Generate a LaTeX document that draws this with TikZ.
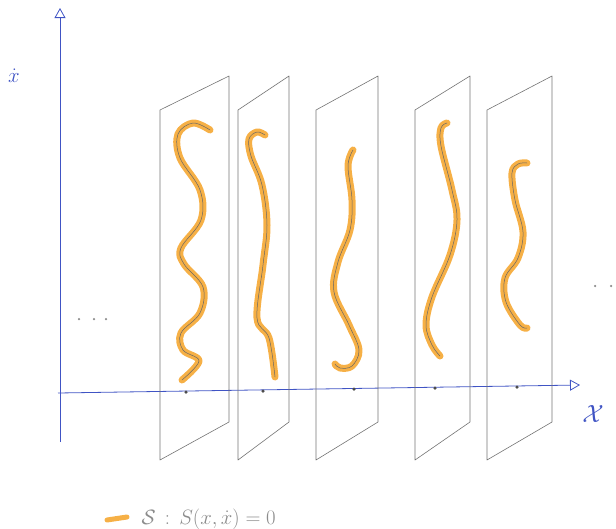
\documentclass[tikz,border=0pt]{standalone}
\usepackage{amsmath}
\usepackage{xcolor}
\usepackage{tikz}
\usetikzlibrary{arrows.meta}

\definecolor{axisblue}{RGB}{64,84,196}
\definecolor{markerorange}{RGB}{246,176,70}
\definecolor{legendgray}{RGB}{140,140,140}

\begin{document}
\begin{tikzpicture}[x=1pt, y=-1pt,
  axis/.style={axisblue, line width=0.8pt, -{Triangle[open, length=10pt, width=11pt]}},
  plane/.style={black!55, line width=0.6pt, line join=round},
  curve/.style={markerorange, line width=7pt, line cap=round, line join=round,
    postaction={draw, black!60, line width=0.5pt}},
  tick/.style={circle, fill=black!70, inner sep=0pt, minimum size=3.5pt},
  etc/.style={circle, fill=black!45, inner sep=0pt, minimum size=2.5pt}]
  \useasboundingbox (0,0) rectangle (616,528);

  % axes
  \coordinate (o) at (60,393);
  \coordinate (xend) at (580,385);
  \coordinate (yend) at (60,8);
  \draw[axis] (58,393) -- (xend);
  \draw[axis] (60,442) -- (yend);
  \node[axisblue, font=\huge] (xdot) at (14,76) {$\dot{x}$};
  \node[axisblue, font=\Huge] (xlab) at (593,414) {$\mathcal{X}$};

  % the fibres (left edge / right edge)
  \foreach \l/\r in {160/229, 238/289, 316/378, 415/470, 487/552}
    \draw[plane] (\l,460) -- (\l,110) -- (\r,76) -- (\r,422) -- cycle;

  % base points on the axis
  \foreach \p/\q [count=\i] in {186/392, 263/391, 354/389, 435/388, 517/387}
    \node[tick] (t\i) at (\p,\q) {};

  % orange level sets in each fibre
  \draw[curve] plot[smooth, tension=0.6] coordinates {(210,130) (193,123) (178,134)
    (180,158) (200,190) (201,220) (181,248) (184,264) (203,287) (200,313)
    (181,333) (183,350) (199,361) (182,380)};
  \draw[curve] plot[smooth, tension=0.6] coordinates {(265,135) (257,132) (249,139)
    (251,156) (262,185) (267,225) (263,265) (257,318) (269,338) (275,377)};
  \draw[curve] plot[smooth, tension=0.6] coordinates {(353,150) (348,166) (352,200)
    (350,230) (338,262) (334,292) (349,325) (359,350) (352,366) (340,368) (335,364)};
  \draw[curve] plot[smooth, tension=0.6] coordinates {(447,123) (441,128) (441,146)
    (452,190) (457,220) (450,255) (432,297) (426,325) (432,345) (440,356)};
  \draw[curve] plot[smooth, tension=0.6] coordinates {(527,163) (518,164) (512,173)
    (515,200) (523,232) (518,258) (505,278) (506,302) (520,325) (527,328)};

  % dots left and right
  \foreach \p [count=\i] in {79,94,106}
    \node[etc] (l\i) at (\p,319) {};
  \foreach \p [count=\i] in {595,611}
    \node[etc] (r\i) at (\p,286) {};

  % legend
  \coordinate (ka) at (107,520);
  \coordinate (kb) at (127,517);
  \draw[markerorange, line width=5pt, line cap=round] (ka) -- (kb);
  \node[legendgray, font=\huge, anchor=west] (key) at (138,519)
    {$\mathcal{S} \,:\, S(x,\dot{x}) = 0$};
\end{tikzpicture}
\end{document}
